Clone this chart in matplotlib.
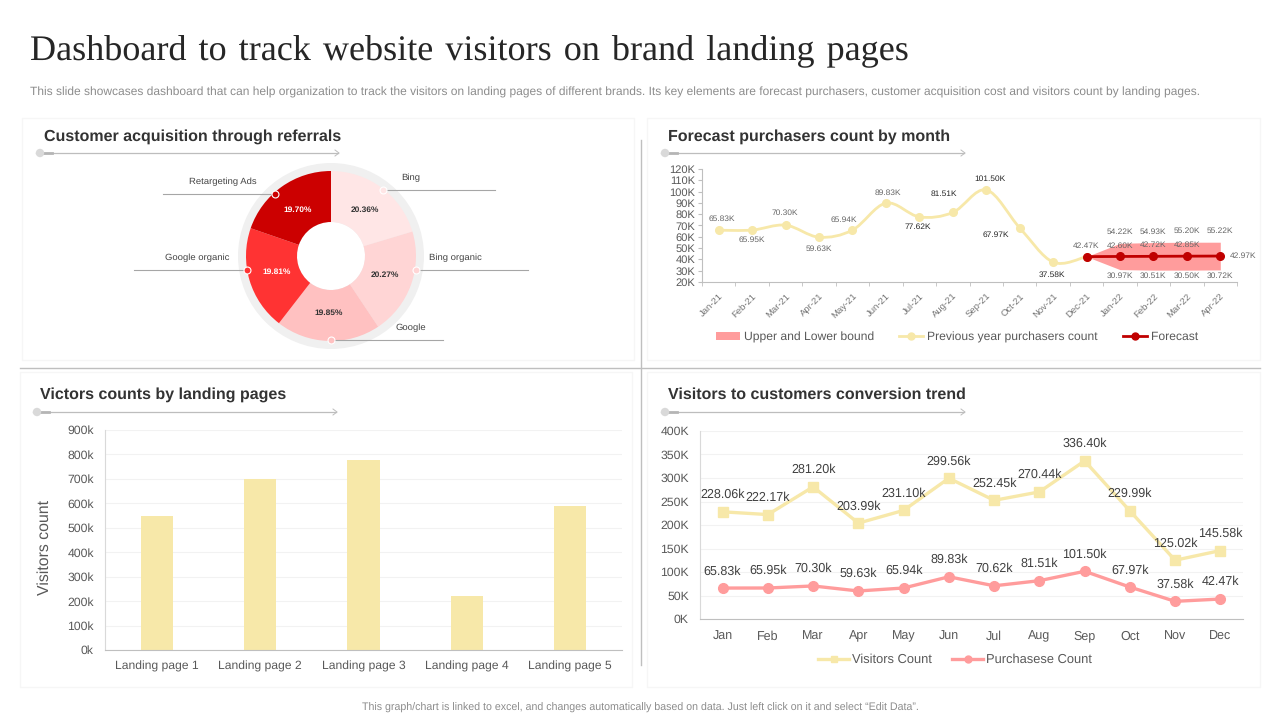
import matplotlib
matplotlib.use('Agg')
import matplotlib.pyplot as plt
from matplotlib.lines import Line2D
from matplotlib.patches import Circle, PathPatch, Patch, Rectangle
from matplotlib.path import Path
from matplotlib.ticker import FixedLocator

plt.rcParams['font.family'] = ['Liberation Sans', 'DejaVu Sans']
plt.rcParams['text.hinting'] = 'no_hinting'

# data
referral_names = ['Bing', 'Bing organic', 'Google', 'Google organic', 'Retargeting Ads']
referral_share = [20.36, 20.27, 19.85, 19.81, 19.70]

forecast_months = ['Jan-21', 'Feb-21', 'Mar-21', 'Apr-21', 'May-21', 'Jun-21', 'Jul-21', 'Aug-21',
                   'Sep-21', 'Oct-21', 'Nov-21', 'Dec-21', 'Jan-22', 'Feb-22', 'Mar-22', 'Apr-22']
prev_year = [65.83, 65.95, 70.30, 59.63, 65.94, 89.83, 77.62, 81.51, 101.50, 67.97, 37.58, 42.47]
forecast = [42.47, 42.60, 42.72, 42.85, 42.97]
upper = [42.47, 54.22, 54.93, 55.20, 55.22]
lower = [42.47, 30.97, 30.51, 30.50, 30.72]

pages = ['Landing page 1', 'Landing page 2', 'Landing page 3', 'Landing page 4', 'Landing page 5']
page_visitors = [548, 700, 778, 220, 590]

months = ['Jan', 'Feb', 'Mar', 'Apr', 'May', 'Jun', 'Jul', 'Aug', 'Sep', 'Oct', 'Nov', 'Dec']
visitors = [228.06, 222.17, 281.20, 203.99, 231.10, 299.56, 252.45, 270.44, 336.40, 229.99, 125.02, 145.58]
purchases = [65.83, 65.95, 70.30, 59.63, 65.94, 89.83, 70.62, 81.51, 101.50, 67.97, 37.58, 42.47]

# colours
YELLOW = '#F7E8A9'
PINK = '#FF9C9C'
DARKRED = '#C00000'
slice_colors = ['#FFE6E6', '#FFD5D5', '#FFC1C1', '#FF3333', '#CC0000']

W, H = 1280, 720
fig = plt.figure(figsize=(W / 100, H / 100), dpi=100, facecolor='white')

# whole slide in pixel coordinates
bg = fig.add_axes([0, 0, 1, 1], zorder=0)
bg.set_xlim(0, W)
bg.set_ylim(H, 0)
bg.axis('off')
top = fig.add_axes([0, 0, 1, 1], zorder=5)
top.set_xlim(0, W)
top.set_ylim(H, 0)
top.axis('off')


def px_axes(left, t, right, bottom):
    return fig.add_axes([left / W, 1 - bottom / H, (right - left) / W, (bottom - t) / H], zorder=2, facecolor='none')


def card(x1, y1, x2, y2):
    bg.add_patch(Rectangle((x1, y1), x2 - x1, y2 - y1, fc='white', ec='#F6F6F6', lw=1))


def heading(x, y, text, x1, x2, yline):
    bg.text(x, y, text, fontsize=11.5, fontweight='bold', color='#333333', va='center')
    bg.plot([x1, x2], [yline, yline], color='#BDBDBD', lw=0.9)
    bg.plot([x1 + 4, x1 + 16], [yline, yline], color='#B5B5B5', lw=2)
    bg.add_patch(Circle((x1 + 4, yline), 4.2, fc='#D9D9D9', ec='none', zorder=3))
    bg.plot([x2 - 3, x2 + 1, x2 - 3], [yline - 3, yline, yline + 3], color='#BDBDBD', lw=0.7)


def simple_axis(ax):
    ax.spines['top'].set_visible(False)
    ax.spines['right'].set_visible(False)
    ax.spines['left'].set_color('#BFBFBF')
    ax.spines['bottom'].set_color('#BFBFBF')


def smooth_line(ax, xs, ys, col):
    # catmull-rom through the points, same look as the excel smooth line
    verts = [(xs[0], ys[0])]
    codes = [Path.MOVETO]
    n = len(xs)
    for i in range(n - 1):
        a = max(i - 1, 0)
        d = min(i + 2, n - 1)
        verts.append((xs[i] + (xs[i + 1] - xs[a]) / 6, ys[i] + (ys[i + 1] - ys[a]) / 6))
        verts.append((xs[i + 1] - (xs[d] - xs[i]) / 6, ys[i + 1] - (ys[d] - ys[i]) / 6))
        verts.append((xs[i + 1], ys[i + 1]))
        codes += [Path.CURVE4, Path.CURVE4, Path.CURVE4]
    ax.add_patch(PathPatch(Path(verts, codes), fc='none', ec=col, lw=2))


def label(ax, x, y, txt, dx, dy, size, col):
    ax.annotate(txt, (x, y), xytext=(dx, -dy), textcoords='offset pixels', ha='center', va='center',
                fontsize=size, color=col, annotation_clip=False)


# slide texts
bg.text(30, 52, 'Dashboard \u200ato \u200atrack \u200awebsite \u200avisitors \u200aon \u200abrand \u200alanding \u200apages',
        family=['Liberation Serif', 'DejaVu Serif'], fontsize=26, color='#262626', va='center')
bg.text(30, 92, 'This slide showcases dashboard that can help organization to track the visitors on landing pages of '
        'different brands. Its key elements are forecast purchasers, customer acquisition cost and visitors count by landing pages.',
        fontsize=8.65, color='#8C8C8C', va='center')
bg.text(640, 708, 'This graph/chart is linked to excel, and changes automatically based on data. Just left click on it and select \u201cEdit Data\u201d.',
        fontsize=7.65, color='#8C8C8C', va='center', ha='center')

card(22, 118, 634, 360)
card(647, 118, 1260, 360)
card(20, 372, 632, 687)
card(647, 372, 1260, 687)
bg.plot([20, 1260], [368, 368], color='#BFBFBF', lw=1)
bg.plot([641, 641], [140, 665], color='#BFBFBF', lw=1)

heading(44, 137, 'Customer acquisition through referrals', 36, 338, 153)
heading(668, 137, 'Forecast purchasers count by month', 661, 964, 153)
heading(40, 395, 'Victors counts by landing pages', 33, 336, 412)
heading(668, 395, 'Visitors to customers conversion trend', 661, 964, 412)

# donut
cx, cy, half = 331, 256, 100
ax1 = px_axes(cx - half, cy - half, cx + half, cy + half)
wedges, _, pcts = ax1.pie(referral_share, colors=slice_colors, startangle=90, counterclock=False, radius=85,
                          wedgeprops={'width': 51}, autopct='%.2f%%', pctdistance=0.67,
                          textprops={'fontsize': 6, 'fontweight': 'bold', 'color': '#333333'})
pcts[3].set_color('white')
pcts[4].set_color('white')
ax1.add_patch(Circle((0, 0), 93, fc='#F0F0F0', ec='none', zorder=0))
ax1.add_patch(Circle((0, 0), 34, fc='white', ec='none', zorder=0.5))
ax1.set_xlim(-half, half)
ax1.set_ylim(-half, half)
ax1.set_aspect('equal')

# callouts: name, dot x, dot y, line end x, text x
callouts = [('Bing', 383, 190, 495, 411), ('Bing organic', 416, 270, 528, 455), ('Google', 331, 340, 443, 411),
            ('Google organic', 247, 270, 134, 197), ('Retargeting Ads', 275, 194, 163, 223)]
for i, (name, dx, dy, end, tx) in enumerate(callouts):
    top.plot([dx, end], [dy, dy], color='#A6A6A6', lw=0.8, zorder=1)
    top.plot(dx, dy, 'o', ms=5, mfc=slice_colors[i], mec='white', mew=0.8, zorder=2)
    top.text(tx, dy - 12, name, fontsize=6.8, color='#444444', ha='center', va='center')

# forecast
ax2 = px_axes(702, 169, 1237, 282)
simple_axis(ax2)
idx = list(range(len(forecast_months)))
ax2.set_xlim(-0.5, 15.5)
ax2.set_ylim(20, 120)
ax2.set_yticks(range(20, 130, 10))
ax2.set_yticklabels(['%dK' % v for v in range(20, 130, 10)], fontsize=8, color='#595959')
ax2.set_xticks(idx)
ax2.set_xticklabels(forecast_months, fontsize=6.8, color='#737373', rotation=45, ha='right', rotation_mode='anchor')
ax2.xaxis.set_minor_locator(FixedLocator([i - 0.5 for i in range(17)]))
ax2.tick_params(axis='x', which='major', length=0, pad=7)
ax2.tick_params(axis='x', which='minor', length=3, color='#BFBFBF')
ax2.tick_params(axis='y', length=3, color='#BFBFBF', pad=2)
fc_idx = idx[11:]
ax2.fill_between(fc_idx, lower, upper, color=PINK, lw=0, zorder=1)
smooth_line(ax2, idx[:12], prev_year, YELLOW)
ax2.plot(idx[:12], prev_year, 'o', ms=5.5, color=YELLOW, zorder=3)
ax2.plot(fc_idx, forecast, '-o', ms=5.5, lw=2, color=DARKRED, zorder=4)

prev_off = [(3, -11), (0, 10), (-1, -12), (0, 12), (-9, -10), (2, -10), (-2, 10), (-9, -19), (4, -11), (-24, 7), (-1, 13)]
for i, (dx, dy) in enumerate(prev_off):
    col = '#262626' if i in (6, 7, 8, 9, 10) else '#666666'
    label(ax2, idx[i], prev_year[i], '%.2fK' % prev_year[i], dx, dy, 6, col)
for i, x in enumerate(fc_idx):
    if i == 4:
        label(ax2, x, forecast[i], '%.2fK' % forecast[i], 23, 0, 6, '#666666')
    else:
        label(ax2, x, forecast[i], '%.2fK' % forecast[i], 0, -11, 6, '#666666')
    if i > 0:
        label(ax2, x, upper[i], '%.2fK' % upper[i], 0, -11, 6, '#666666')
        label(ax2, x, lower[i], '%.2fK' % lower[i], 0, 6, 6, '#666666')

handles2 = [Patch(fc=PINK, ec='none'),
            Line2D([], [], color=YELLOW, lw=2, marker='o', ms=5),
            Line2D([], [], color=DARKRED, lw=2, marker='o', ms=5)]
ax2.legend(handles2, ['Upper and Lower bound', 'Previous year purchasers count', 'Forecast'], ncol=3, frameon=False,
           loc='center', bbox_to_anchor=(957, 337), bbox_transform=top.transData, fontsize=8.7, labelcolor='#595959',
           handlelength=2.0, handletextpad=0.3, columnspacing=2.1, borderpad=0)

# landing pages
ax3 = px_axes(105, 430, 622, 650)
simple_axis(ax3)
ax3.spines['left'].set_color('#D9D9D9')
ax3.set_xlim(-0.5, 4.5)
ax3.set_ylim(0, 900)
ax3.set_yticks(range(0, 1000, 100))
ax3.set_yticklabels(['%dk' % v for v in range(0, 1000, 100)], fontsize=8.8, color='#595959')
ax3.grid(axis='y', color='#F2F2F2', lw=0.8)
ax3.set_axisbelow(True)
ax3.bar(range(5), page_visitors, width=0.31, color=YELLOW)
ax3.set_xticks(range(5))
ax3.set_xticklabels(pages, fontsize=8.7, color='#595959')
ax3.tick_params(length=0, pad=8)
bg.text(45, 547, 'Visitors count', rotation=90, fontsize=11.4, color='#595959', ha='center', va='center')

# conversion trend
ax4 = px_axes(700, 431, 1243, 619)
simple_axis(ax4)
ax4.spines['left'].set_color('#D9D9D9')
ax4.set_xlim(-0.5, 11.5)
ax4.set_ylim(0, 400)
ax4.set_yticks(range(0, 450, 50))
ax4.set_yticklabels(['%dK' % v for v in range(0, 450, 50)], fontsize=8.8, color='#595959')
ax4.grid(axis='y', color='#F2F2F2', lw=0.8)
ax4.set_axisbelow(True)
ax4.set_xticks(range(12))
ax4.set_xticklabels(months, fontsize=9, color='#595959')
ax4.tick_params(length=0, pad=8)
ax4.plot(range(12), visitors, '-s', color=YELLOW, lw=2.4, ms=7)
ax4.plot(range(12), purchases, '-o', color=PINK, lw=2.4, ms=7)
for i in range(12):
    label(ax4, i, visitors[i], '%.2fk' % visitors[i], 0, -17, 9, '#404040')
    label(ax4, i, purchases[i], '%.2fk' % purchases[i], 0, -17, 9, '#404040')
handles4 = [Line2D([], [], color=YELLOW, lw=2.4, marker='s', ms=5),
            Line2D([], [], color=PINK, lw=2.4, marker='o', ms=5)]
ax4.legend(handles4, ['Visitors Count', 'Purchasese Count'], ncol=2, frameon=False, loc='center',
           bbox_to_anchor=(955, 660), bbox_transform=top.transData, fontsize=9.3, labelcolor='#595959',
           handlelength=2.4, handletextpad=0.2, columnspacing=1.6, borderpad=0)

fig.savefig('out.png', dpi=100)
